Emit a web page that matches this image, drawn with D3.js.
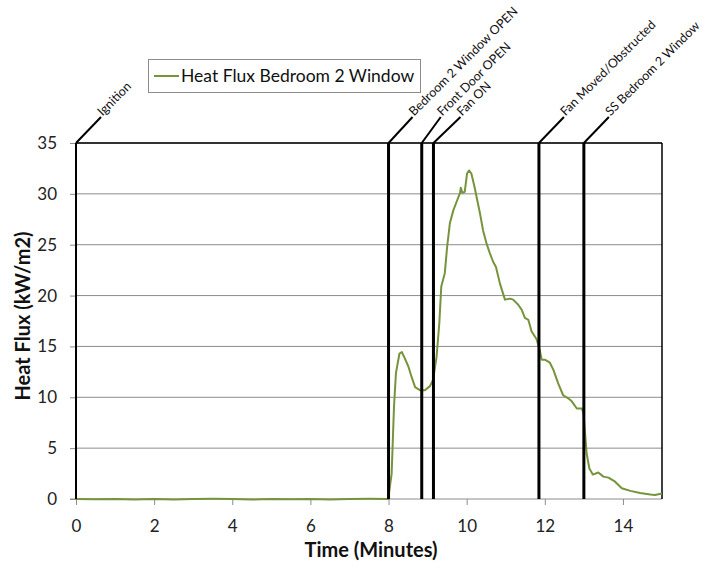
<!DOCTYPE html>
<html><head><meta charset="utf-8">
<script src="https://cdn.jsdelivr.net/npm/d3@7"></script>
<style>body{margin:0;background:#fff;} text{font-family:Lato,"Open Sans",sans-serif;}</style>
</head><body><div id="chart"></div>
<script>
const seriesName = "Heat Flux Bedroom 2 Window";
const times = [0,0.5,1,1.5,2,2.5,3,3.5,4,4.5,5,5.5,6,6.5,7,7.5,7.99,
 8.08,8.14,8.19,8.28,8.34,8.42,8.51,8.59,8.68,8.80,8.93,9.06,9.14,9.23,9.30,9.35,9.44,9.50,9.57,9.66,9.74,9.83,9.85,9.89,9.95,10.01,10.06,10.12,10.20,10.27,10.34,10.42,10.51,10.59,10.68,10.75,10.85,10.98,11.11,11.19,11.32,11.41,11.49,11.58,11.66,11.79,11.87,11.92,12.00,12.13,12.22,12.34,12.47,12.60,12.69,12.82,12.95,12.99,13.03,13.07,13.14,13.23,13.37,13.50,13.63,13.80,13.97,14.19,14.44,14.70,14.82,15.0];
const flux = [0,-0.03,0,-0.05,0,-0.06,0,0.02,0,-0.05,0,-0.03,0,-0.04,0,0.02,0,
 2.5,9.1,12.4,14.3,14.45,13.8,13.0,12.0,11.0,10.7,10.7,11.1,11.7,14.0,17.3,20.9,22.2,24.8,27.1,28.4,29.2,30.1,30.6,30.1,30.2,32.0,32.3,32.0,30.7,29.4,28.1,26.4,25.1,24.2,23.3,22.8,21.2,19.6,19.7,19.6,19.1,18.6,17.8,17.6,16.5,15.7,14.65,13.7,13.7,13.4,12.7,11.4,10.2,9.9,9.6,8.9,8.9,8.4,6.45,4.5,3.0,2.4,2.6,2.2,2.1,1.7,1.05,0.8,0.6,0.45,0.4,0.55];
const eventTimes = [0, 8.0, 8.85, 9.15, 11.85, 13.0];
const eventLabels = ["Ignition","Bedroom 2 Window OPEN","Front Door OPEN","Fan ON","Fan Moved/Obstructed","SS Bedroom 2 Window"];
const xTicks = [0,2,4,6,8,10,12,14];
const yTicks = [0,5,10,15,20,25,30,35];

// layout: horizontal reach of each label's leader line (px)
const leaderReach = [25, 24, 19, 27, 25, 25];

const W = 709, H = 571;
const m = {left:76, top:143, right:47, bottom:72};
const svg = d3.select("#chart").append("svg").attr("width",W).attr("height",H);
const x = d3.scaleLinear().domain([0,15]).range([m.left, W-m.right]);
const y = d3.scaleLinear().domain([0,35]).range([H-m.bottom, m.top]);

// gridlines
svg.append("g").selectAll("line").data(yTicks.filter(d=>d>0)).join("line")
  .attr("x1",x(0)).attr("x2",x(15)).attr("y1",d=>y(d)).attr("y2",d=>y(d))
  .attr("stroke","#8c8c8c").attr("stroke-width",1);

// y axis
const ya = svg.append("g").attr("transform",`translate(${x(0)},0)`)
  .call(d3.axisLeft(y).tickValues(yTicks).tickSize(6).tickPadding(13));
ya.select(".domain").remove();
ya.selectAll("line").attr("stroke","#8c8c8c");
ya.selectAll("text").attr("font-size",17).attr("fill","#222").attr("font-family","Lato,sans-serif");

// x axis
const xa = svg.append("g").attr("transform",`translate(0,${y(0)})`)
  .call(d3.axisBottom(x).tickValues(xTicks).tickSize(6).tickPadding(15));
xa.select(".domain").attr("stroke","#8c8c8c").attr("d",`M${x(0)-6},0H${x(15)}`);
xa.selectAll("line").attr("stroke","#8c8c8c");
xa.selectAll("text").attr("font-size",17).attr("fill","#222").attr("font-family","Lato,sans-serif");

// frame
svg.append("line").attr("x1",x(0)).attr("x2",x(15)).attr("y1",y(35)).attr("y2",y(35)).attr("stroke","#000").attr("stroke-width",1.5);
svg.append("line").attr("x1",x(15)).attr("x2",x(15)).attr("y1",y(35)).attr("y2",y(0)).attr("stroke","#000").attr("stroke-width",1.5);

// data line
svg.append("path").datum(times.map((t,i)=>[t,flux[i]]))
  .attr("fill","none").attr("stroke","#77933C").attr("stroke-width",2)
  .attr("stroke-linejoin","round")
  .attr("d", d3.line().x(d=>x(d[0])).y(d=>y(d[1])));

// event lines
const ev = svg.append("g").selectAll("g")
  .data(eventTimes.map((t,i)=>({t,label:eventLabels[i],r:leaderReach[i]}))).join("g");
ev.append("line").attr("x1",d=>x(d.t)).attr("x2",d=>x(d.t)).attr("y1",y(35)).attr("y2",y(0))
  .attr("stroke","#000").attr("stroke-width",d=>d.t===0?2:3);
ev.append("line").attr("x1",d=>x(d.t)).attr("x2",d=>x(d.t)+d.r).attr("y1",y(35)).attr("y2",y(35)-26)
  .attr("stroke","#000").attr("stroke-width",2);
ev.append("text").attr("transform",d=>`translate(${x(d.t)+d.r+2},${y(35)-26}) rotate(-45)`)
  .attr("dy","-0.05em").attr("font-size",12.5).attr("fill","#111").text(d=>d.label);

// legend
const lg = svg.append("g");
lg.append("rect").attr("x",148.5).attr("y",59.5).attr("width",272).attr("height",33)
  .attr("fill","#fff").attr("stroke","#8c8c8c");
lg.append("line").attr("x1",154).attr("x2",179).attr("y1",76).attr("y2",76).attr("stroke","#77933C").attr("stroke-width",2);
lg.append("text").attr("x",181).attr("y",82).attr("font-size",17.5).attr("fill","#111").text(seriesName);

// axis titles
svg.append("text").attr("x",371).attr("y",557).attr("text-anchor","middle")
  .attr("font-size",20).attr("font-weight","bold").attr("fill","#111").text("Time (Minutes)");
svg.append("text").attr("transform","translate(30,316) rotate(-90)").attr("text-anchor","middle")
  .attr("font-size",20).attr("font-weight","bold").attr("fill","#111").text("Heat Flux (kW/m2)");
</script></body></html>
